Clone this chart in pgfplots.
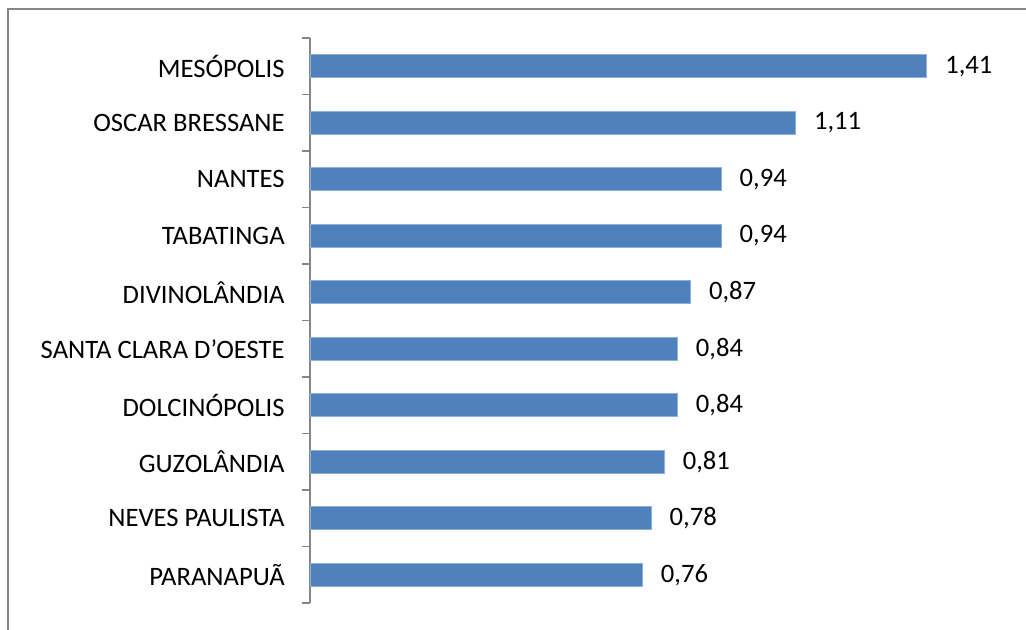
\documentclass[border=0pt]{standalone}
\usepackage{pgfplots}
\pgfplotsset{compat=1.18}
\usepackage{fontspec}
\setmainfont{Carlito}
\definecolor{barblue}{HTML}{4F81BD}
\definecolor{baredge}{HTML}{8EB0DC}
\definecolor{axgray}{HTML}{868686}
\begin{document}
\begin{tikzpicture}
\useasboundingbox (-155pt,-13pt) rectangle (358pt,301.5pt);
\draw[axgray, line width=1pt] (-151pt,-40pt) rectangle (380pt,297pt);
\begin{axis}[
  at={(0pt,0pt)}, anchor=south west,
  scale only axis,
  width=350pt, height=282.5pt,
  xmin=0, xmax=1.6,
  ymin=-0.5, ymax=9.5,
  xbar, bar width=11.5pt,
  axis x line=none,
  axis y line*=left,
  axis line style={axgray, line width=0.8pt},
  ytick={0,...,9},
  yticklabels={PARANAPUÃ, NEVES PAULISTA, GUZOLÂNDIA, DOLCINÓPOLIS, SANTA CLARA D’OESTE\ , DIVINOLÂNDIA, TABATINGA, NANTES, OSCAR BRESSANE, MESÓPOLIS},
  minor ytick={-0.5,0.5,...,9.5},
  tick align=outside,
  major tick length=0pt,
  minor tick length=4pt,
  every tick/.style={axgray, line width=0.8pt},
  yticklabel style={font=\fontsize{13.3}{16}\selectfont, anchor=east, inner sep=0pt, xshift=-12.5pt},
  nodes near coords,
  nodes near coords style={font=\fontsize{13.3}{16}\selectfont, anchor=west, inner sep=0pt, xshift=9pt,
    /pgf/number format/.cd, use comma, fixed, fixed zerofill, precision=2, assume math mode=true},
  clip=false,
]
\addplot[fill=barblue, draw=baredge, line width=0.4pt] coordinates {
  (0.76,0) (0.78,1) (0.81,2) (0.84,3) (0.84,4) (0.87,5) (0.94,6) (0.94,7) (1.11,8) (1.41,9)
};
\end{axis}
\end{tikzpicture}
\end{document}
